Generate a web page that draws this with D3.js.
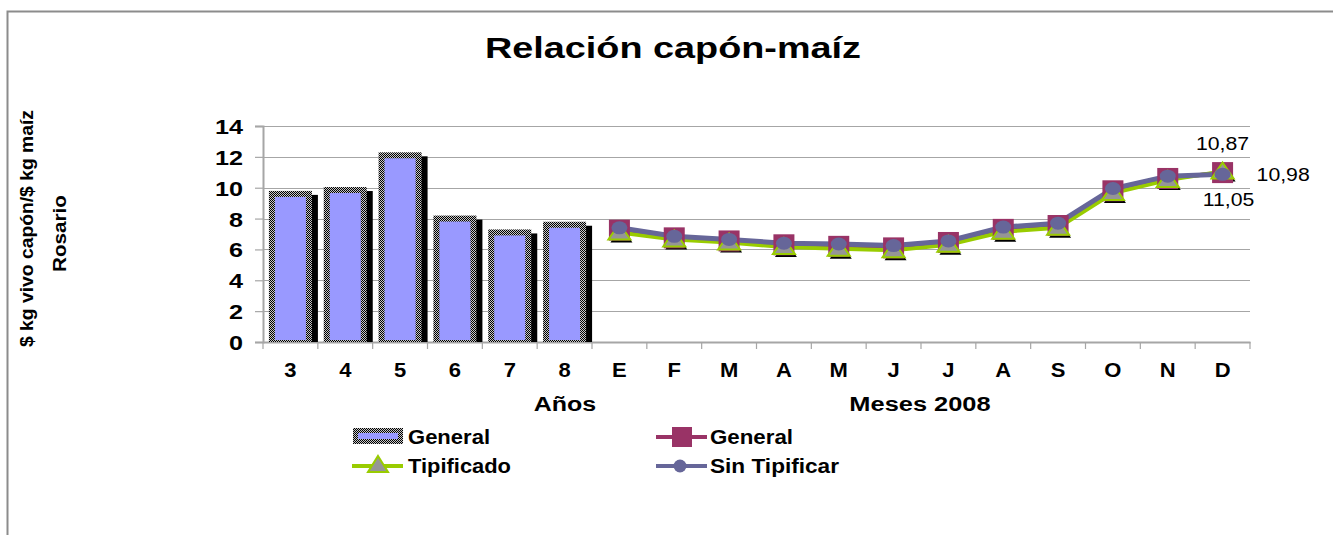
<!DOCTYPE html>
<html>
<head>
<meta charset="utf-8">
<script src="https://cdn.jsdelivr.net/npm/d3@7"></script>
<style>
  body { margin: 0; background: #fff; overflow: hidden; }
  svg { display: block; }
  text { font-family: "Liberation Sans", Arial, sans-serif; }
</style>
</head>
<body>
<div id="wrapper"></div>
<script>
const categories = ["3", "4", "5", "6", "7", "8", "E", "F", "M", "A", "M", "J", "J", "A", "S", "O", "N", "D"];
const yearValues = [9.6, 9.85, 12.1, 8.0, 7.1, 7.6];
const generalValues = [7.25, 6.75, 6.55, 6.3, 6.2, 6.1, 6.45, 7.3, 7.55, 9.8, 10.6, 10.98];
const tipificadoValues = [7.1, 6.65, 6.45, 6.15, 6.05, 5.95, 6.3, 7.15, 7.4, 9.65, 10.5, 11.05];
const sinTipificarValues = [7.4, 6.85, 6.65, 6.4, 6.35, 6.25, 6.55, 7.45, 7.7, 9.95, 10.75, 10.87];
const yTicks = [0, 2, 4, 6, 8, 10, 12, 14];
const endLabels = ["10,87", "10,98", "11,05"];

const width = 1333;
const height = 535;

const svg = d3.select("#wrapper").append("svg")
  .attr("width", width)
  .attr("height", height);

// checkered border used by the bars
const defs = svg.append("defs");
const pat = defs.append("pattern")
  .attr("id", "checker")
  .attr("width", 2).attr("height", 2)
  .attr("patternUnits", "userSpaceOnUse");
pat.append("rect").attr("width", 2).attr("height", 2).attr("fill", "#c8c8c8");
pat.append("rect").attr("width", 1).attr("height", 1).attr("fill", "#000");
pat.append("rect").attr("x", 1).attr("y", 1).attr("width", 1).attr("height", 1).attr("fill", "#000");

// stretch text horizontally by factor k
function stretch(sel, k) {
  sel.each(function () {
    const len = this.getComputedTextLength();
    d3.select(this).attr("textLength", len * k).attr("lengthAdjust", "spacingAndGlyphs");
  });
}

// outer frame (top and left edges only are inside the picture)
svg.append("path")
  .attr("d", `M7.5,${height} V11.5 H${width}`)
  .attr("fill", "none")
  .attr("stroke", "#8c8c8c")
  .attr("stroke-width", 2);

const plot = { left: 263, right: 1250, top: 126, bottom: 342 };

const x = d3.scaleBand()
  .domain(d3.range(categories.length))
  .range([plot.left, plot.right])
  .padding(0);

const y = d3.scaleLinear()
  .domain([0, 14])
  .range([plot.bottom, plot.top]);

// gridlines
svg.append("g")
  .selectAll("line")
  .data(yTicks.slice(1))
  .join("line")
  .attr("x1", plot.left).attr("x2", plot.right)
  .attr("y1", d => Math.round(y(d)) + 0.5)
  .attr("y2", d => Math.round(y(d)) + 0.5)
  .attr("stroke", "#a6a6a6")
  .attr("stroke-width", 1.2);

// y axis
const yAxis = svg.append("g")
  .attr("transform", `translate(${plot.left},0)`)
  .call(d3.axisLeft(y).tickValues(yTicks).tickSize(8).tickPadding(12));
yAxis.select(".domain").attr("stroke", "#a6a6a6").attr("stroke-width", 2);
yAxis.selectAll(".tick line").attr("stroke", "#a6a6a6").attr("stroke-width", 1.2);
yAxis.selectAll(".tick text")
  .attr("fill", "#000")
  .style("font-size", "21px")
  .style("font-weight", "bold")
  .attr("dy", "0.36em")
  .call(stretch, 1.2);

// x axis
const xAxis = svg.append("g")
  .attr("transform", `translate(0,${plot.bottom})`)
  .call(d3.axisBottom(x).tickSize(0).tickPadding(21).tickFormat(i => categories[i]));
xAxis.select(".domain").attr("stroke", "#a6a6a6").attr("stroke-width", 2);
xAxis.selectAll(".tick text")
  .attr("fill", "#000")
  .style("font-size", "20px")
  .style("font-weight", "bold")
  .call(stretch, 1.1);
svg.append("g")
  .selectAll("line")
  .data(d3.range(categories.length + 1))
  .join("line")
  .attr("x1", i => i < categories.length ? x(i) : plot.right)
  .attr("x2", i => i < categories.length ? x(i) : plot.right)
  .attr("y1", plot.bottom)
  .attr("y2", plot.bottom + 7)
  .attr("stroke", "#a6a6a6")
  .attr("stroke-width", 1.2);

svg.append("text")
  .attr("x", 565).attr("y", 411)
  .attr("text-anchor", "middle")
  .style("font-size", "20px").style("font-weight", "bold")
  .text("Años")
  .call(stretch, 1.25);
svg.append("text")
  .attr("x", 920).attr("y", 411)
  .attr("text-anchor", "middle")
  .style("font-size", "20px").style("font-weight", "bold")
  .text("Meses 2008")
  .call(stretch, 1.27);

// bars (years)
const barW = 43;
const bars = svg.append("g");
const barData = yearValues.map((v, i) => ({ i, v }));
bars.selectAll(".shadow")
  .data(barData)
  .join("rect")
  .attr("class", "shadow")
  .attr("x", d => x(d.i) + (x.bandwidth() - barW) / 2 + 6)
  .attr("y", d => y(d.v) + 1)
  .attr("width", barW)
  .attr("height", d => plot.bottom - y(d.v) - 1)
  .attr("fill", "#000");
bars.selectAll(".outer")
  .data(barData)
  .join("rect")
  .attr("class", "outer")
  .attr("x", d => x(d.i) + (x.bandwidth() - barW) / 2)
  .attr("y", d => y(d.v) - 3)
  .attr("width", barW)
  .attr("height", d => plot.bottom - y(d.v) + 3)
  .attr("fill", "url(#checker)");
bars.selectAll(".inner")
  .data(barData)
  .join("rect")
  .attr("class", "inner")
  .attr("x", d => x(d.i) + (x.bandwidth() - barW) / 2 + 6)
  .attr("y", d => y(d.v) + 3)
  .attr("width", barW - 12)
  .attr("height", d => plot.bottom - y(d.v) - 5)
  .attr("fill", "#9999ff");

// line series (months)
const monthIdx = d3.range(6, categories.length);
const cx = i => x(monthIdx[i]) + x.bandwidth() / 2;
const lineGen = values => d3.line()
  .x((d, i) => cx(i))
  .y(d => y(d))(values);

const lines = svg.append("g");
lines.append("path").attr("d", lineGen(generalValues))
  .attr("fill", "none").attr("stroke", "#993366").attr("stroke-width", 4);
lines.append("path").attr("d", lineGen(tipificadoValues))
  .attr("fill", "none").attr("stroke", "#99cc00").attr("stroke-width", 4);
lines.append("path").attr("d", lineGen(sinTipificarValues))
  .attr("fill", "none").attr("stroke", "#666699").attr("stroke-width", 5);

const triPath = "M0,-9 L11,7 L-11,7 Z";

// triangle shadows
lines.selectAll(".trishadow")
  .data(tipificadoValues)
  .join("path")
  .attr("class", "trishadow")
  .attr("d", triPath)
  .attr("transform", (d, i) => `translate(${cx(i) + 2},${y(d) + 3})`)
  .attr("fill", "#000");

// squares
lines.selectAll(".sq")
  .data(generalValues)
  .join("rect")
  .attr("class", "sq")
  .attr("x", (d, i) => cx(i) - 10.5)
  .attr("y", d => y(d) - 10.5)
  .attr("width", 21).attr("height", 21)
  .attr("fill", "#993366");

// triangles
lines.selectAll(".tri")
  .data(tipificadoValues)
  .join("path")
  .attr("class", "tri")
  .attr("d", triPath)
  .attr("transform", (d, i) => `translate(${cx(i)},${y(d)})`)
  .attr("fill", "#969696")
  .attr("stroke", "#99cc00")
  .attr("stroke-width", 2);

// circles
lines.selectAll(".dot")
  .data(sinTipificarValues)
  .join("ellipse")
  .attr("class", "dot")
  .attr("cx", (d, i) => cx(i))
  .attr("cy", d => y(d))
  .attr("rx", 8).attr("ry", 6.5)
  .attr("fill", "#666699");

// end labels
const last = monthIdx.length - 1;
const lx = cx(last);
const ly = y(generalValues[last]);
const labelPos = [
  { dx: 0, dy: -23, anchor: "middle" },
  { dx: 34, dy: 8, anchor: "start" },
  { dx: 6, dy: 33, anchor: "middle" }
];
svg.append("g")
  .selectAll("text")
  .data(endLabels)
  .join("text")
  .attr("x", (d, i) => lx + labelPos[i].dx)
  .attr("y", (d, i) => ly + labelPos[i].dy)
  .attr("text-anchor", (d, i) => labelPos[i].anchor)
  .style("font-size", "18px")
  .text(d => d)
  .call(stretch, 1.18);

// title
svg.append("text")
  .attr("x", 673).attr("y", 58)
  .attr("text-anchor", "middle")
  .style("font-size", "30px").style("font-weight", "bold")
  .text("Relación capón-maíz")
  .attr("textLength", 376).attr("lengthAdjust", "spacingAndGlyphs");

// y axis title
const yTitle = svg.append("g");
yTitle.append("text")
  .attr("transform", "translate(33,228.5) rotate(-90)")
  .attr("text-anchor", "middle")
  .style("font-size", "19px").style("font-weight", "bold")
  .text("$ kg vivo capón/$ kg maíz")
  .attr("textLength", 237).attr("lengthAdjust", "spacingAndGlyphs");
yTitle.append("text")
  .attr("transform", "translate(66,233.5) rotate(-90)")
  .attr("text-anchor", "middle")
  .style("font-size", "19px").style("font-weight", "bold")
  .text("Rosario")
  .attr("textLength", 77).attr("lengthAdjust", "spacingAndGlyphs");

// legend
const legend = svg.append("g");
legend.append("rect").attr("x", 353).attr("y", 428).attr("width", 50).attr("height", 16)
  .attr("fill", "url(#checker)");
legend.append("rect").attr("x", 358).attr("y", 433).attr("width", 40).attr("height", 6)
  .attr("fill", "#9999ff");

legend.append("line").attr("x1", 656).attr("x2", 707).attr("y1", 437).attr("y2", 437)
  .attr("stroke", "#993366").attr("stroke-width", 4);
legend.append("rect").attr("x", 672).attr("y", 427).attr("width", 20).attr("height", 20)
  .attr("fill", "#993366");

legend.append("line").attr("x1", 352).attr("x2", 403).attr("y1", 466).attr("y2", 466)
  .attr("stroke", "#99cc00").attr("stroke-width", 4);
legend.append("path").attr("d", "M0,-9 L10,7 L-10,7 Z")
  .attr("transform", "translate(378,465)")
  .attr("fill", "#969696").attr("stroke", "#99cc00").attr("stroke-width", 2);

legend.append("line").attr("x1", 656).attr("x2", 707).attr("y1", 466).attr("y2", 466)
  .attr("stroke", "#666699").attr("stroke-width", 4);
legend.append("circle").attr("cx", 680).attr("cy", 466).attr("r", 6.5)
  .attr("fill", "#666699");

const legendTexts = [
  { t: "General", x: 408, y: 443.5, w: 82 },
  { t: "General", x: 710, y: 443.5, w: 83 },
  { t: "Tipificado", x: 408, y: 472.5, w: 103 },
  { t: "Sin Tipificar", x: 710, y: 472.5, w: 129 }
];
legend.selectAll(".lt")
  .data(legendTexts)
  .join("text")
  .attr("class", "lt")
  .attr("x", d => d.x).attr("y", d => d.y)
  .style("font-size", "20px").style("font-weight", "bold")
  .text(d => d.t)
  .attr("textLength", d => d.w).attr("lengthAdjust", "spacingAndGlyphs");
</script>
</body>
</html>
